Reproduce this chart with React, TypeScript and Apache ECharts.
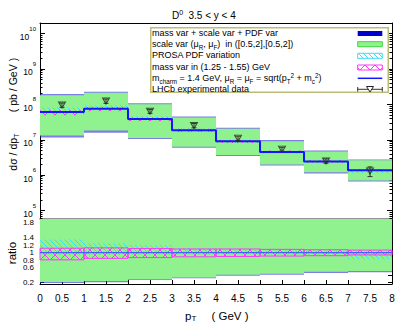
import React, { useEffect, useRef } from "react";
import * as echarts from "echarts";

// ---------------- data ----------------
const binEdges = [0, 1, 2, 3, 4, 5, 6, 7, 8];
// central prediction, pb/GeV
const central = [6.05e7, 7.5e7, 3.85e7, 1.85e7, 9.0e6, 4.54e6, 2.43e6, 1.38e6];
// scale variation band
const scaleHigh = [1.82e8, 2.14e8, 1.0e8, 4.27e7, 2.04e7, 9.1e6, 4.68e6, 2.62e6];
const scaleLow = [1.32e7, 1.82e7, 1.12e7, 6.3e6, 3.72e6, 2.0e6, 1.2e6, 7.1e5];
// mass + scale + PDF total band
const totalHigh = [1.95e8, 2.29e8, 1.07e8, 4.57e7, 2.19e7, 9.8e6, 5.0e6, 2.75e6];
const totalLow = [1.15e7, 1.58e7, 1.05e7, 5.9e6, 3.47e6, 1.86e6, 1.12e6, 6.6e5];
// PROSA PDF variation (ratio to central)
const pdfHighRatio = [1.35, 1.25, 1.2, 1.13, 1.08, 1.06, 1.05, 1.04];
const pdfLowRatio = [0.93, 0.94, 0.95, 0.95, 0.96, 0.96, 0.95, 0.82];
// mass variation (ratio to central)
const massHighRatio = [1.12, 1.13, 1.11, 1.1, 1.1, 1.09, 1.08, 1.07];
const massLowRatio = [0.81, 0.85, 0.87, 0.89, 0.9, 0.91, 0.92, 0.94];
// LHCb data
const lhcbPt = [0.5, 1.5, 2.5, 3.5, 4.5, 5.5, 6.5, 7.5];
const lhcbValue = [9.55e7, 1.24e8, 6.38e7, 2.52e7, 1.11e7, 5.42e6, 2.52e6, 1.31e6];
const lhcbError = [1.3e7, 1.7e7, 8.0e6, 3.5e6, 1.5e6, 7.0e5, 3.5e5, 4.0e5];
// tick labels
const yDecades = [5, 6, 7, 8, 9, 10];
const ratioTicks = [0.2, 0.4, 0.6, 0.8, 1, 1.2, 1.4, 1.6, 1.8];

const FONT = "'Liberation Sans', Arial, Helvetica, sans-serif";
const LOGMIN = 4.76;
const LOGMAX = 10.3;
const RMIN = 0.165;
const RMAX = 1.9;
const GREEN = "#8ff28f";

function makePattern(size: number, draw: (ctx: CanvasRenderingContext2D) => void) {
  const c = document.createElement("canvas");
  c.width = size;
  c.height = size;
  const ctx = c.getContext("2d")!;
  draw(ctx);
  return { image: c.toDataURL(), repeat: "repeat", imageWidth: size, imageHeight: size };
}

// styles: list of style objects drawn on top of each other in the same rect
function bandSeries(xi: number, yi: number, data: number[][], styles: any[], z = 2) {
  return {
    type: "custom",
    xAxisIndex: xi,
    yAxisIndex: yi,
    silent: true,
    z,
    data,
    renderItem: (params: any, api: any) => {
      const a = api.coord([api.value(0), api.value(3)]);
      const b = api.coord([api.value(1), api.value(2)]);
      const cs = params.coordSys;
      const y0 = Math.max(Math.min(a[1], b[1]), cs.y);
      const y1 = Math.min(Math.max(a[1], b[1]), cs.y + cs.height);
      if (y1 <= y0) return null;
      const shape = { x: a[0], y: y0, width: b[0] - a[0], height: y1 - y0 };
      return {
        type: "group",
        children: styles.map((s) => ({ type: "rect", shape: { ...shape }, style: { ...s } })),
      };
    },
  };
}

function text(x: number, y: number, t: string, size: number, extra: any = {}) {
  const lh = extra.lineHeight || size + 1;
  return {
    type: "text",
    x,
    y,
    z: 110,
    rotation: extra.rotation || 0,
    style: {
      text: t,
      fill: "#000",
      fontSize: size,
      fontFamily: FONT,
      align: extra.align || "left",
      verticalAlign: "middle",
      textAlign: extra.align || "left",
      textVerticalAlign: "middle",
      lineHeight: lh,
      rich: {
        sub: { fontSize: size * 0.7, fontFamily: FONT, fill: "#000", lineHeight: 6, verticalAlign: "bottom" },
        sup: { fontSize: size * 0.7, fontFamily: FONT, fill: "#000", lineHeight: 4, verticalAlign: "top" },
      },
    },
  };
}

function buildOption() {
  const cyan = makePattern(5, (ctx) => {
    ctx.fillStyle = "#3fdcfa";
    for (let i = 0; i < 5; i++) ctx.fillRect(i, i, 1, 1);
  });
  const magenta = makePattern(10, (ctx) => {
    ctx.fillStyle = "#ff36ff";
    for (let i = 0; i < 10; i++) {
      ctx.fillRect(i, i, 1, 1);
      ctx.fillRect(i, 9 - i, 1, 1);
    }
  });

  const lg = Math.log10;
  const bins = central.map((_, i) => [binEdges[i], binEdges[i + 1]]);
  const topBand = (lo: number[], hi: number[]) => bins.map((b, i) => [b[0], b[1], lg(lo[i]), lg(hi[i])]);
  const ratioBand = (lo: number[], hi: number[]) => bins.map((b, i) => [b[0], b[1], lo[i], hi[i]]);

  const minorLog: number[] = [];
  for (let n = 4; n <= 10; n++)
    for (let k = 2; k <= 9; k++) {
      const v = n + Math.log10(k);
      if (v > LOGMIN && v < LOGMAX) minorLog.push(v);
    }

  const totalStyle = [{ fill: "#2626d6", opacity: 0.6 }];
  const greenStyle = [{ fill: GREEN }];
  const cyanStyle = [{ fill: cyan }];
  const magentaTop = [{ fill: magenta }];
  const magentaRatio = [{ fill: magenta, stroke: "#ff36ff", lineWidth: 1 }];

  const yRich = {
    b: { fontSize: 8.5, fontFamily: FONT, color: "#000", lineHeight: 16, verticalAlign: "bottom" },
    s: { fontSize: 6, fontFamily: FONT, color: "#000", lineHeight: 6, verticalAlign: "top" },
  };

  const noSplit = { show: false };
  const blackLine = { show: true, onZero: false, lineStyle: { color: "#000", width: 1 } };

  const legendX = 357.7;
  const legendW = 24.6;

  return {
    animation: false,
    backgroundColor: "#fff",
    grid: [
      { left: 40, top: 23, width: 352, height: 196 },
      { left: 40, top: 219, width: 352, height: 65 },
    ],
    xAxis: [
      {
        gridIndex: 0, type: "value", min: 0, max: 8, position: "bottom",
        axisLine: { show: true, onZero: false, lineStyle: { color: "#727272", width: 1.5 } },
        axisTick: { show: false }, axisLabel: { show: false }, splitLine: noSplit,
      },
      {
        gridIndex: 0, type: "value", min: 0, max: 8, position: "top",
        axisLine: blackLine, axisTick: { show: false }, axisLabel: { show: false }, splitLine: noSplit,
      },
      {
        gridIndex: 1, type: "value", min: 0, max: 8, interval: 0.5, position: "bottom",
        axisLine: blackLine,
        axisTick: { show: true, inside: true, length: 4, lineStyle: { color: "#000" } },
        axisLabel: { color: "#000", fontSize: 10, fontFamily: FONT, margin: 9, showMinLabel: true, showMaxLabel: true },
        splitLine: noSplit,
      },
    ],
    yAxis: [
      {
        gridIndex: 0, type: "value", min: LOGMIN, max: LOGMAX, position: "left",
        axisLine: blackLine,
        axisTick: { show: true, inside: true, length: 5, customValues: yDecades, lineStyle: { color: "#000" } },
        axisLabel: {
          customValues: yDecades, margin: 4, color: "#000", showMinLabel: true, showMaxLabel: true,
          formatter: (v: number) => `{b|10}{s|${Math.round(v)}}`,
          rich: yRich,
        },
        splitLine: noSplit,
      },
      {
        gridIndex: 0, type: "value", min: LOGMIN, max: LOGMAX, position: "left",
        axisLine: { show: false, onZero: false },
        axisTick: { show: true, inside: true, length: 2.5, customValues: minorLog, lineStyle: { color: "#000" } },
        axisLabel: { show: false }, splitLine: noSplit,
      },
      {
        gridIndex: 0, type: "value", min: LOGMIN, max: LOGMAX, position: "right",
        axisLine: blackLine,
        axisTick: { show: true, inside: true, length: 5, customValues: yDecades, lineStyle: { color: "#000" } },
        axisLabel: { show: false }, splitLine: noSplit,
      },
      {
        gridIndex: 0, type: "value", min: LOGMIN, max: LOGMAX, position: "right",
        axisLine: { show: false, onZero: false },
        axisTick: { show: true, inside: true, length: 2.5, customValues: minorLog, lineStyle: { color: "#000" } },
        axisLabel: { show: false }, splitLine: noSplit,
      },
      {
        gridIndex: 1, type: "value", min: RMIN, max: RMAX, position: "left",
        axisLine: blackLine,
        axisTick: { show: true, inside: true, length: 4, customValues: ratioTicks, lineStyle: { color: "#000" } },
        axisLabel: {
          customValues: ratioTicks, margin: 6, color: "#000", fontSize: 8, fontFamily: FONT,
          showMinLabel: true, showMaxLabel: true, hideOverlap: false,
          formatter: (v: number) => String(parseFloat(Number(v).toFixed(1))),
        },
        splitLine: noSplit,
      },
      {
        gridIndex: 1, type: "value", min: RMIN, max: RMAX, position: "right",
        axisLine: blackLine,
        axisTick: { show: true, inside: true, length: 4, customValues: ratioTicks, lineStyle: { color: "#000" } },
        axisLabel: { show: false }, splitLine: noSplit,
      },
    ],
    series: [
      // ----- top panel -----
      bandSeries(0, 0, topBand(totalLow, totalHigh), totalStyle, 2),
      bandSeries(0, 0, topBand(scaleLow, scaleHigh), greenStyle, 2),
      bandSeries(0, 0, topBand(central.map((c, i) => c * pdfLowRatio[i]), central.map((c, i) => c * pdfHighRatio[i])), cyanStyle, 2),
      bandSeries(0, 0, topBand(central.map((c, i) => c * massLowRatio[i]), central.map((c, i) => c * massHighRatio[i])), magentaTop, 2),
      {
        type: "line", xAxisIndex: 0, yAxisIndex: 0, step: "end", symbol: "none", silent: true, z: 3,
        data: binEdges.map((x, i) => [x, lg(central[Math.min(i, central.length - 1)])]),
        lineStyle: { color: "#1515ff", width: 2 },
      },
      {
        type: "custom", xAxisIndex: 0, yAxisIndex: 0, silent: true, z: 4,
        data: lhcbPt.map((x, i) => [x, lg(lhcbValue[i] - lhcbError[i]), lg(lhcbValue[i] + lhcbError[i])]),
        renderItem: (params: any, api: any) => {
          const p1 = api.coord([api.value(0), api.value(2)]);
          const p2 = api.coord([api.value(0), api.value(1)]);
          const w = 2.5;
          const st = { stroke: "#333", lineWidth: 1 };
          return {
            type: "group",
            children: [
              { type: "line", shape: { x1: p1[0], y1: p1[1], x2: p2[0], y2: p2[1] }, style: { ...st } },
              { type: "line", shape: { x1: p1[0] - w, y1: p1[1], x2: p1[0] + w, y2: p1[1] }, style: { ...st } },
              { type: "line", shape: { x1: p2[0] - w, y1: p2[1], x2: p2[0] + w, y2: p2[1] }, style: { ...st } },
            ],
          };
        },
      },
      {
        type: "scatter", xAxisIndex: 0, yAxisIndex: 0, silent: true, z: 5,
        data: lhcbPt.map((x, i) => [x, lg(lhcbValue[i])]),
        symbol: "triangle", symbolRotate: 180, symbolSize: [7, 6],
        itemStyle: { color: "rgba(255,255,255,0)", borderColor: "#222", borderWidth: 1 },
      },
      // ----- ratio panel -----
      bandSeries(2, 4, ratioBand(totalLow.map((v, i) => v / central[i]), totalHigh.map((v, i) => v / central[i])), totalStyle, 2),
      bandSeries(2, 4, ratioBand(scaleLow.map((v, i) => v / central[i]), scaleHigh.map((v, i) => v / central[i])), greenStyle, 2),
      bandSeries(2, 4, ratioBand(pdfLowRatio, pdfHighRatio), cyanStyle, 2),
      bandSeries(2, 4, ratioBand(massLowRatio, massHighRatio), magentaRatio, 2),
      {
        type: "line", xAxisIndex: 2, yAxisIndex: 4, step: "end", symbol: "none", silent: true, z: 3,
        data: binEdges.map((x, i) => [x, central[Math.min(i, central.length - 1)] / central[Math.min(i, central.length - 1)]]),
        lineStyle: { color: "#4060ff", width: 1.2 },
      },
    ],
    graphic: [
      // title
      text(172, 15, "D{sup|0}", 10, { lineHeight: 12 }),
      text(188.5, 15, "3.5 < y < 4", 10),
      // axis titles
      text(13, 85, "( pb / GeV )", 10.5, { rotation: Math.PI / 2, align: "center" }),
      text(13, 152, "dσ / dp{sub|T}", 10.5, { rotation: Math.PI / 2, align: "center", lineHeight: 13 }),
      text(12, 253, "ratio", 11.5, { rotation: Math.PI / 2, align: "center" }),
      text(185, 315.5, "p{sub|T}", 11.5, { lineHeight: 14 }),
      text(211.5, 315.5, "( GeV )", 11.5),
      // legend
      {
        type: "rect", z: 100,
        shape: { x: 150.75, y: 27.75, width: 237.5, height: 64.5 },
        style: { fill: "#fff", stroke: "#bcbc78", lineWidth: 1.5 },
      },
      text(152, 33.3, "mass var + scale var + PDF var", 9),
      text(152, 44.2, "scale var (μ{sub|R}, μ{sub|F})  in ([0.5,2],[0.5,2])", 9, { lineHeight: 12 }),
      text(152, 55.3, "PROSA PDF variation", 9),
      text(152, 66.6, "mass var in (1.25 - 1.55) GeV", 9),
      text(152, 78.0, "m{sub|charm} = 1.4 GeV, μ{sub|R} = μ{sub|F} = sqrt(p{sub|T}{sup|2} + m{sub|c}{sup|2})", 9, { lineHeight: 12 }),
      text(152, 89.4, "LHCb experimental data", 9),
      { type: "rect", z: 105, shape: { x: legendX, y: 31, width: legendW, height: 5 }, style: { fill: "#0000cc" } },
      { type: "rect", z: 105, shape: { x: legendX, y: 41.7, width: legendW, height: 5 }, style: { fill: GREEN, stroke: "#3ad83a", lineWidth: 1 } },
      { type: "rect", z: 105, shape: { x: legendX, y: 53.3, width: legendW, height: 5 }, style: { fill: cyan, stroke: "#3fdcfa", lineWidth: 1 } },
      { type: "rect", z: 105, shape: { x: legendX, y: 65, width: legendW, height: 5 }, style: { fill: magenta, stroke: "#ff36ff", lineWidth: 1 } },
      { type: "line", z: 105, shape: { x1: legendX, y1: 78.3, x2: legendX + legendW, y2: 78.3 }, style: { stroke: "#1515ff", lineWidth: 1.5 } },
      { type: "line", z: 105, shape: { x1: legendX, y1: 89.3, x2: legendX + legendW, y2: 89.3 }, style: { stroke: "#333", lineWidth: 1 } },
      { type: "line", z: 105, shape: { x1: legendX, y1: 87, x2: legendX, y2: 91.6 }, style: { stroke: "#333", lineWidth: 1 } },
      { type: "line", z: 105, shape: { x1: legendX + legendW, y1: 87, x2: legendX + legendW, y2: 91.6 }, style: { stroke: "#333", lineWidth: 1 } },
      {
        type: "polygon", z: 106,
        shape: { points: [[366.5, 86.5], [373.5, 86.5], [370, 92]] },
        style: { fill: "#fff", stroke: "#222", lineWidth: 1 },
      },
    ],
  };
}

export default function App() {
  const ref = useRef<HTMLDivElement>(null);
  useEffect(() => {
    const chart = echarts.init(ref.current!, null, { renderer: "svg" });
    chart.setOption(buildOption() as any);
    return () => chart.dispose();
  }, []);
  return (
    <div
      ref={ref}
      style={{ position: "absolute", left: 0, top: 0, width: 407, height: 326 }}
    />
  );
}
